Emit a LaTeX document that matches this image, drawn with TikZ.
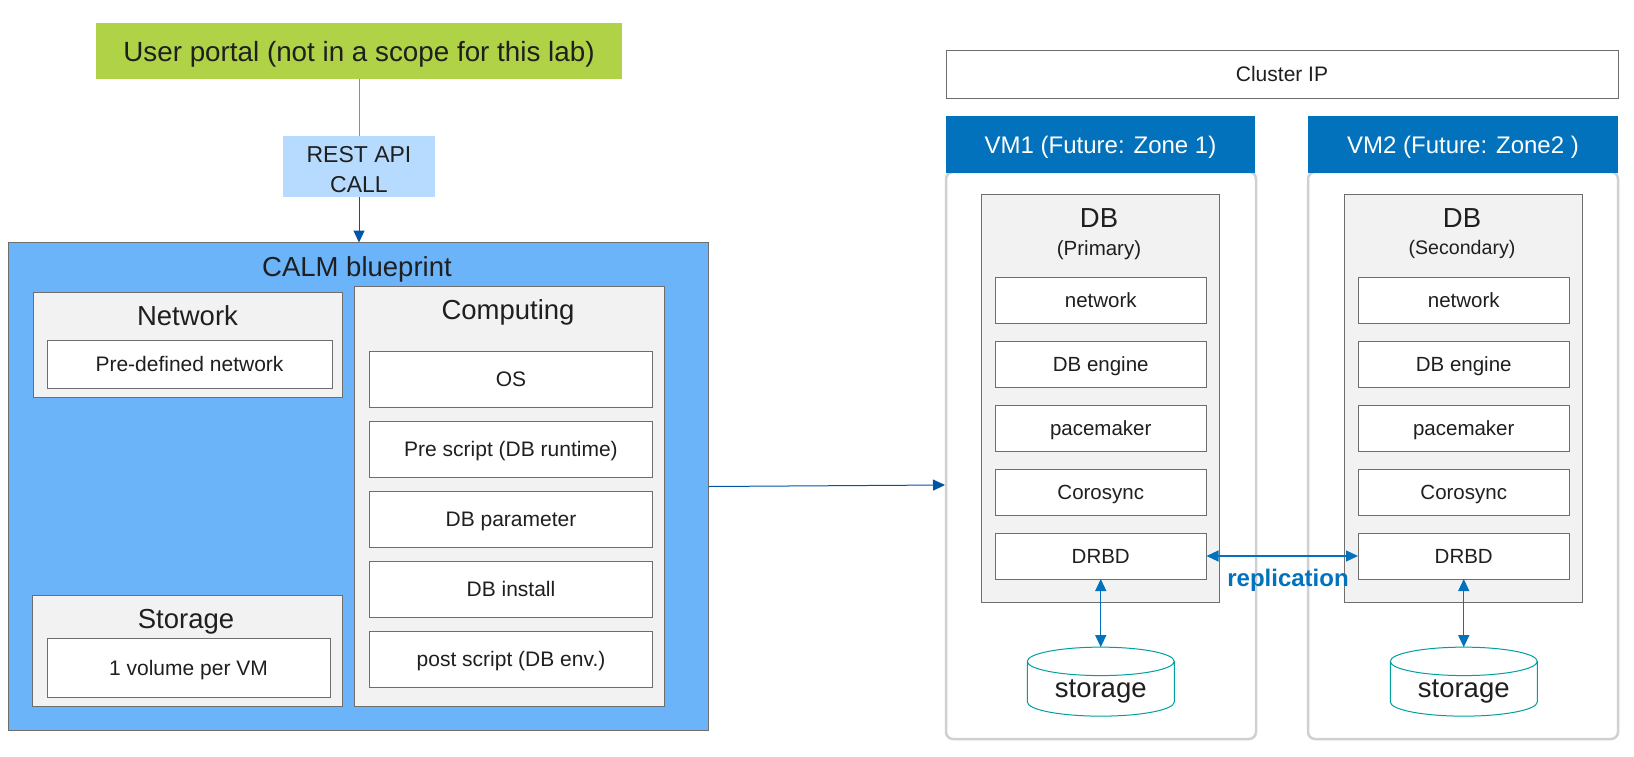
\documentclass[tikz,border=0pt]{standalone}
\usepackage{fontspec}
\setmainfont{Liberation Sans}
\usetikzlibrary{arrows.meta, positioning, shapes.geometric}
\definecolor{portalgreen}{HTML}{AFD247}
\definecolor{restblue}{HTML}{B7DAFF}
\definecolor{calmblue}{HTML}{6BB4F9}
\definecolor{vmblue}{HTML}{0272BD}
\definecolor{darkblue}{HTML}{0054A6}
\definecolor{portalline}{HTML}{5F97C9}
\definecolor{panelgrey}{HTML}{F2F2F2}
\definecolor{edgegrey}{HTML}{6E6E6E}
\definecolor{vmedge}{HTML}{D0D0D0}
\definecolor{storeteal}{HTML}{00A0A0}
\newcommand{\fs}[1]{\fontsize{#1}{#1}\selectfont}

\begin{document}
\begin{tikzpicture}[
              x=1pt, y=-1pt,
              every node/.style={outer sep=0pt, inner sep=0pt, text depth=0pt, text=black!88},
              panel/.style={draw=edgegrey, line width=1pt, fill=panelgrey, anchor=north west},
              item/.style={draw=edgegrey, line width=1pt, fill=white, anchor=north west, font=\fs{21}},
              citem/.style={item, minimum width=283pt, minimum height=56pt},
              ditem/.style={item, minimum width=211.5pt, minimum height=46pt, font=\fs{20.5}},
              head/.style={font=\fs{27.5}},
              vmhead/.style={fill=vmblue, anchor=north west, minimum width=310pt, minimum height=57pt, text=white, font=\fs{24}},
              vmbox/.style={draw=vmedge, line width=2.5pt, rounded corners=7pt, anchor=north west, fill=white, minimum width=310pt, minimum height=567pt},
              store/.style={cylinder, shape border rotate=90, aspect=0.31, draw=storeteal, line width=1pt, fill=white, minimum width=147pt, minimum height=69pt, font=\fs{27.5}},
              link/.style={<->, >={Triangle[length=12pt,width=11pt]}, draw=vmblue, line width=1.2pt}
            ]
            \useasboundingbox (0,0) rectangle (1634,756);

            % Portal
            \node[fill=portalgreen, minimum width=526pt, minimum height=56pt, font=\fs{27.8}] (portal) at (359,51) {User portal (not in a scope for this lab)};
            \node[fill=restblue, minimum width=152pt, minimum height=61pt, align=center, font=\fontsize{23}{29.5}\selectfont] (rest) at (359,166.5) {\rule{0pt}{22pt}REST API \\ CALL};

            % Blueprint
            \node[draw=edgegrey, line width=1pt, fill=calmblue, anchor=north west, minimum width=700pt, minimum height=488pt] (calm) at (8.5,242.5) {};
            \node[head] (calmtitle) at (357,267) {CALM blueprint};

            \node[panel, minimum width=309pt, minimum height=104.5pt] (network) at (33.5,292.5) {};
            \node[head] (networktitle) at (187.5,316) {Network};
            \node[item, minimum width=285pt, minimum height=48pt] (predefined) at (47,340) {Pre-defined network};

            \node[panel, minimum width=310.5pt, minimum height=111pt] (storage) at (32,595) {};
            \node[head] (storagetitle) at (186,619) {Storage};
            \node[item, minimum width=283pt, minimum height=59pt] (volume) at (47,638) {1 volume per VM};

            \node[panel, minimum width=309.5pt, minimum height=420pt] (computing) at (354.5,286) {};
            \node[head] (computingtitle) at (508,310) {Computing};
            \node[citem] (os) at (369.5,351) {OS};
            \node[citem, below=14pt of os] (prescript) {Pre script (DB runtime)};
            \node[citem, below=14pt of prescript] (parameter) {DB parameter};
            \node[citem, below=14pt of parameter] (install) {DB install};
            \node[citem, below=14pt of install] (postscript) {post script (DB env.)};

            % Cluster
            \node[draw=edgegrey, line width=1pt, fill=white, anchor=north west, minimum width=672pt, minimum height=48pt, font=\fs{21}] (cluster) at (946,50) {Cluster IP};

            % VM1
            \node[vmbox] (vmone) at (946,172) {};
            \node[vmhead, minimum width=309pt] (vmonehead) at (946,116) {VM1 (Future: Zone 1)};
            \node[panel, minimum width=238.5pt, minimum height=408pt] (dbone) at (981,194) {};
            \node[head] (dbonetitle) at (1099,218) {DB};
            \node[font=\fs{20.5}] (dbonerole) at (1099,248) {(Primary)};
            \node[ditem] (netone) at (995,277) {network};
            \node[ditem, below=18pt of netone] (engineone) {DB engine};
            \node[ditem, below=18pt of engineone] (paceone) {pacemaker};
            \node[ditem, below=18pt of paceone] (coroone) {Corosync};
            \node[ditem, below=18pt of coroone] (drbdone) {DRBD};
            \node[store] (storeone) at (1100.75,689) {storage};

            % VM2
            \node[vmbox] (vmtwo) at (1308,172) {};
            \node[vmhead] (vmtwohead) at (1308,116) {VM2 (Future: Zone2 )};
            \node[panel, minimum width=238pt, minimum height=408pt] (dbtwo) at (1344.5,194) {};
            \node[head] (dbtwotitle) at (1462,218) {DB};
            \node[font=\fs{19.6}] (dbtworole) at (1462,247) {(Secondary)};
            \node[ditem] (nettwo) at (1358,277) {network};
            \node[ditem, below=18pt of nettwo] (enginetwo) {DB engine};
            \node[ditem, below=18pt of enginetwo] (pacetwo) {pacemaker};
            \node[ditem, below=18pt of pacetwo] (corotwo) {Corosync};
            \node[ditem, below=18pt of corotwo] (drbdtwo) {DRBD};
            \node[store] (storetwo) at (1463.75,689) {storage};

            % Connectors
            \draw[draw=portalline, line width=1pt] (portal.south) -- (rest.north);
            \draw[-{Triangle[length=12pt,width=11pt]}, draw=darkblue, line width=1pt] (rest.south) -- (rest.south |- calm.north);
            \coordinate (vmentry) at (945,485);
            \draw[-{Triangle[length=12pt,width=11pt]}, draw=darkblue, line width=1pt] (calm.east) -- (vmentry);
            \draw[link] (drbdone.east) -- (drbdtwo.west);
            \draw[link] (drbdone.south) -- (storeone.north);
            \draw[link] (drbdtwo.south) -- (storetwo.north);
            \node[font=\bfseries\fs{24}, text=vmblue] (replication) at (1288,578) {replication};

            \end{tikzpicture}
\end{document}
